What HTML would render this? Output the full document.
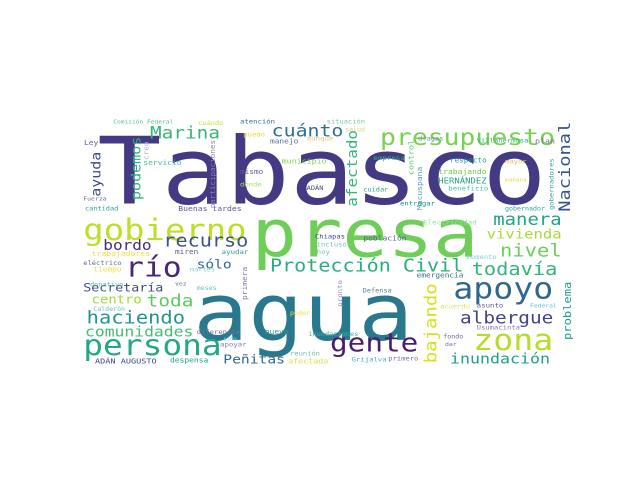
<!DOCTYPE html>
<html><head><meta charset="utf-8"><style>
html,body{margin:0;padding:0;background:#fff;width:640px;height:480px;overflow:hidden}
svg text{font-family:"DejaVu Sans Mono","Liberation Mono",monospace}
</style></head><body>
<svg id="wc" width="640" height="480" viewBox="0 0 640 480" xmlns="http://www.w3.org/2000/svg">
<rect width="640" height="480" fill="#fff"/>
</svg>
<script>
// horizontal words: [text, x1, x2, baseline, color] in 3x zoom coordinates of region (80,110)
const hWords = [
["Tabasco",52,1400,280,"#443983"],
["presa",515,1195,440,"#6ece58"],
["agua",340,1000,690,"#2a788e"],
["gobierno",10,500,390,"#bddf26"],
["persona",10,425,735,"#22a884"],
["presupuesto",900,1425,105,"#7ad151"],
["cuánto",575,790,80,"#2c728e"],
["Marina",210,420,85,"#35b779"],
["río",135,305,500,"#482677"],
["recurso",250,505,410,"#3b528b"],
["bordo",70,215,420,"#472c7a"],
["Protección Civil",570,1150,485,"#29af7f"],
["Secretaría",10,250,545,"#3e4989"],
["centro",35,185,580,"#a0da39"],
["toda",200,340,590,"#5ec962"],
["sólo",350,455,475,"#31688e"],
["haciendo",20,315,640,"#1f968b"],
["comunidades",15,340,680,"#44bf70"],
["Peñitas",430,615,760,"#31688e"],
["ADÁN AUGUSTO",45,230,760,"#3e4989"],
["despensa",270,385,757,"#1fa187"],
["gente",750,1015,725,"#481f70"],
["apoyo",1120,1420,565,"#30678d"],
["albergue",1140,1420,640,"#414487"],
["zona",1180,1420,720,"#b5de2b"],
["inundación",1110,1410,760,"#1f9e89"],
["todavía",1175,1432,495,"#2fb47c"],
["nivel",1260,1445,440,"#6ccd5a"],
["vivienda",1220,1445,385,"#a8db34"],
["manera",1240,1445,345,"#20a386"],
["Comisión Federal",100,280,40,"#48c08a"],
["cuándo",355,430,45,"#c8e04a"],
["atención",480,585,40,"#2c728e"],
["situación",740,855,40,"#78c8a8"],
["salud",795,855,65,"#d8d880"],
["Ley",12,55,105,"#6a5a9a"],
["puedo",490,555,80,"#e8d830"],
["manejo",570,655,100,"#5a6a9a"],
["aunque",680,760,92,"#e0c870"],
["dragas",1015,1090,92,"#58a090"],
["Villahermosa",1190,1345,97,"#35b779"],
["plan",1365,1425,100,"#6a7090"],
["servicio",190,305,165,"#40c0a0"],
["municipio",605,740,160,"#80d050"],
["empresa",880,975,150,"#30b080"],
["respecto",1110,1220,158,"#20a090"],
["mayor",1275,1340,160,"#e0c850"],
["mismo",480,550,192,"#6a5a90"],
["trabajando",1075,1220,192,"#70c050"],
["dónde",480,545,230,"#a8e070"],
["HERNÁNDEZ",1075,1220,220,"#28a080"],
["mañana",1275,1340,215,"#e8d050"],
["ADÁN",680,730,240,"#4a4a80"],
["cuidar",850,925,245,"#30a080"],
["beneficio",1105,1225,242,"#40c0a0"],
["Fuerza",10,80,272,"#6a6a9a"],
["entregar",960,1065,287,"#20908a"],
["cantidad",15,115,302,"#30a0a0"],
["Buenas tardes",295,485,303,"#5a5a90"],
["gobernador",1275,1395,302,"#30a0a0"],
["Electricidad",1030,1190,343,"#98e0a0"],
["Chiapas",705,795,386,"#3e4989"],
["población",850,980,392,"#5a5a90"],
["incluso",710,800,410,"#70c0c0"],
["miren",285,355,432,"#5a5a90"],
["ayudar",425,505,432,"#30a090"],
["trabajadores",35,210,438,"#f0e040"],
["hoy",710,750,432,"#70c0c0"],
["momento",1160,1250,447,"#80d0d0"],
["eléctrico",10,125,465,"#6a6a9a"],
["tiempo",40,125,485,"#f0e040"],
["martes",330,405,485,"#90d0c0"],
["emergencia",1010,1150,503,"#30708e"],
["donativo",30,130,530,"#40c0a0"],
["vez",285,320,527,"#6a6a9a"],
["meses",350,410,540,"#70c0c0"],
["Defensa",848,935,548,"#5a80a0"],
["Calderón",40,135,603,"#6ac0d0"],
["acuerdo",1080,1170,595,"#e0e060"],
["asunto",1190,1270,592,"#5a5a90"],
["Federal",1350,1430,592,"#60c0d0"],
["poder",630,690,615,"#f0e040"],
["Usumacinta",1190,1320,658,"#8a7ab0"],
["diferencia",350,480,672,"#7070a0"],
["nuevo",555,625,672,"#30a090"],
["inundaciones",685,835,678,"#40b0a0"],
["fondo",1090,1150,686,"#6a6a9a"],
["sido",430,470,692,"#80d0e0"],
["apoyar",420,500,710,"#8a7ab0"],
["dar",1095,1130,708,"#7070a0"],
["reunión",630,720,737,"#70c0a0"],
["afectada",625,745,760,"#e0e040"],
["Grijalva",815,920,755,"#4ab0c0"],
["primero",925,1015,752,"#7070a0"]
];
// vertical words (read bottom-to-top): [text, x1, x2, y1, y2, color] in zoom coords
const vWords = [
["Nacional",1435,1480,35,305,"#3b528b"],
["problema",1445,1480,515,690,"#1f9e89"],
["gobernadores",1410,1425,145,300,"#40a0a0"],
["afectado",805,840,60,290,"#35b779"],
["bajando",1040,1080,520,760,"#d8e219"],
["ayuda",40,70,125,260,"#3e4989"],
["podemos",155,190,80,270,"#2db27d"],
["participaciones",385,410,90,295,"#8f7fb0"],
["creo",192,210,95,150,"#b0a8cc"],
["control",985,1005,90,195,"#5ec962"],
["Macuspana",1012,1030,170,300,"#5a9eae"],
["primera",485,505,470,570,"#8a7ab0"],
["pronto",770,790,510,590,"#9a88c0"]
];
const SHRINK = 0.87;
const svg = document.getElementById('wc');
const NS = 'http://www.w3.org/2000/svg';
const X = z => 80 + z/3, Y = z => 110 + z/3;
function slug(s){return s.toLowerCase().normalize('NFD').replace(/[\u0300-\u036f]/g,'').replace(/[^a-z0-9]+/g,'-');}
hWords.forEach(w => {
  const t = document.createElementNS(NS,'text');
  const x1 = X(w[1]), width = (w[2]-w[1])/3;
  const fs = SHRINK*width/(w[0].length*0.602);
  t.setAttribute('x', x1.toFixed(1));
  t.setAttribute('y', Y(w[3]).toFixed(1));
  t.setAttribute('font-size', fs.toFixed(2));
  t.setAttribute('textLength', width.toFixed(1));
  t.setAttribute('lengthAdjust','spacingAndGlyphs');
  t.setAttribute('fill', w[4]);
  t.textContent = w[0];
  
  
  svg.appendChild(t);
});
vWords.forEach(w => {
  const t = document.createElementNS(NS,'text');
  const len = (w[4]-w[3])/3;
  const fs = SHRINK*len/(w[0].length*0.602);
  const bx = X(w[2]) - 0.22*fs, by = Y(w[4]);
  t.setAttribute('x', 0);
  t.setAttribute('y', 0);
  t.setAttribute('transform', 'translate(' + bx.toFixed(1) + ',' + by.toFixed(1) + ') rotate(-90)');
  t.setAttribute('font-size', fs.toFixed(2));
  t.setAttribute('textLength', len.toFixed(1));
  t.setAttribute('lengthAdjust','spacingAndGlyphs');
  t.setAttribute('fill', w[5]);
  t.textContent = w[0];
  
  
  svg.appendChild(t);
});
</script>
</body></html>
